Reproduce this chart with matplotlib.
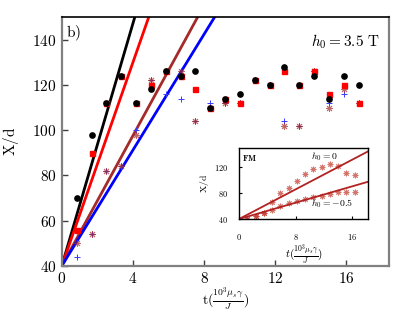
import numpy as np
import matplotlib
matplotlib.use("Agg")
import matplotlib.pyplot as plt
from matplotlib.ticker import FuncFormatter

plt.rcParams['mathtext.fontset'] = 'cm'
plt.rcParams['font.family'] = 'serif'
plt.rcParams['font.serif'] = ['DejaVu Serif']

# main panel data (t in units of 10^3 mu_s gamma / J)
k = np.arange(1, 21)
t_main = k * 0.835
x_black = [70, 98, 112, 124, 112, 118, 126, 124, 126, 110,
           114, 116, 122, 120, 128, 120, 124, 114, 124, 120]
x_red = [56, 90, 112, 124, 112, 120, 126, 124, 118, 110,
         114, 112, 122, 120, 126, 120, 126, 116, 120, 112]
x_brown = [50, 54, 82, 84, 98, 122, 126, 126, 104, 110,
           112, 112, 122, 120, 102, 102, 126, 110, 118, 112]
x_blue = [44, 54, 82, 84, 100, 122, 116, 114, 104, 112,
          112, 112, 122, 120, 104, 102, 126, 112, 116, 112]

# fitted front speeds (slopes), all from X/d = 40 at t = 0
x0 = 40
slope_black = 26.8
slope_red = 22.5
slope_brown = 14.4
slope_blue = 12.8

# inset (FM) data
t_in = np.arange(1, 15) * 1.17
fm_h0 = [40, 45, 50, 66, 80, 87, 99, 110, 117, 120, 125, 122, 111, 107]
fm_h05 = [40, 45, 50, 54, 60, 64, 67, 71, 74, 76, 78, 81, 81, 81]
slope_fm_h0 = 5.7
slope_fm_h05 = 3.14

brown = '#a52a2a'
gray = '#808080'
ast = (8, 2, 0)

fig = plt.figure(figsize=(4.15, 3.12), dpi=100)
ax = fig.add_axes([0.149, 0.148, 0.788, 0.797])

tt = np.array([0, 20])
ax.plot(tt, x0 + slope_black * tt, color='black', lw=2)
ax.plot(tt, x0 + slope_red * tt, color='red', lw=2)
ax.plot(tt, x0 + slope_brown * tt, color=brown, lw=2)
ax.plot(tt, x0 + slope_blue * tt, color='blue', lw=2)

ax.plot(t_main, x_blue, ls='none', marker='+', ms=5, mew=0.7, color='#3a3aff')
ax.plot(t_main, x_brown, ls='none', marker=ast, ms=5, mew=0.7, color=brown, alpha=0.7)
ax.plot(t_main, x_red, ls='none', marker='s', ms=3.6, color='red')
ax.plot(t_main, x_black, ls='none', marker='o', ms=3.8, color='black')

ax.set_xlim(0, 18.4)
ax.set_ylim(40, 150)
ax.set_xticks([0, 4, 8, 12, 16])
ax.set_yticks([40, 60, 80, 100, 120, 140])
fmt = FuncFormatter(lambda v, p: '$%d$' % v)
ax.xaxis.set_major_formatter(fmt)
ax.yaxis.set_major_formatter(fmt)
ax.tick_params(direction='in', length=4, width=1, color='#404040', labelsize=11, pad=4)
for s in ['left', 'bottom', 'right']:
    ax.spines[s].set_color(gray)
    ax.spines[s].set_linewidth(1.6)
ax.spines['top'].set_linewidth(1.2)

ax.set_ylabel(r'$\mathrm{X/d}$', fontsize=11, labelpad=8)
ax.set_xlabel(r'$\mathrm{t}(\frac{10^3\mu_s\gamma}{J})$', fontsize=10, labelpad=-1)
ax.text(0.012, 0.975, r'$\mathrm{b)}$', transform=ax.transAxes, fontsize=11, va='top', ha='left')
ax.text(0.972, 0.90, r'$h_0 = 3.5\ \mathrm{T}$', transform=ax.transAxes, fontsize=11,
        va='center', ha='right')

# inset
axi = fig.add_axes([0.576, 0.298, 0.3115, 0.227])
axi.plot(t_in, fm_h0, ls='none', marker=ast, ms=4, mew=0.7, color='#c0392b', alpha=0.7)
axi.plot(t_in, fm_h05, ls='none', marker=ast, ms=4, mew=0.7, color='#c0392b', alpha=0.7)
axi.plot(tt, x0 + slope_fm_h0 * tt, color='#b22222', lw=1.3)
axi.plot(tt, x0 + slope_fm_h05 * tt, color='#b22222', lw=1.3)
axi.set_xlim(0, 18.3)
axi.set_ylim(40, 149)
axi.set_xticks([0, 8, 16])
axi.set_yticks([40, 80, 120])
axi.xaxis.set_major_formatter(fmt)
axi.yaxis.set_major_formatter(fmt)
axi.tick_params(direction='in', length=2.5, width=0.8, labelsize=6)
axi.tick_params(axis='x', pad=9)
axi.tick_params(axis='y', pad=8)
for s in axi.spines.values():
    s.set_linewidth(1)
axi.set_ylabel(r'$\mathrm{X/d}$', fontsize=7, labelpad=2)
axi.set_xlabel(r'$t(\frac{10^3\mu_s\gamma}{J})$', fontsize=8, labelpad=1)
axi.text(0.4, 141, r'$\mathbf{FM}$', fontsize=6, va='top', ha='left')
axi.text(10.2, 136, r'$h_0 = 0$', fontsize=7, va='center', ha='left')
axi.text(10.2, 64, r'$h_0 = -0.5$', fontsize=7, va='center', ha='left')

fig.savefig('out.png', dpi=100)
